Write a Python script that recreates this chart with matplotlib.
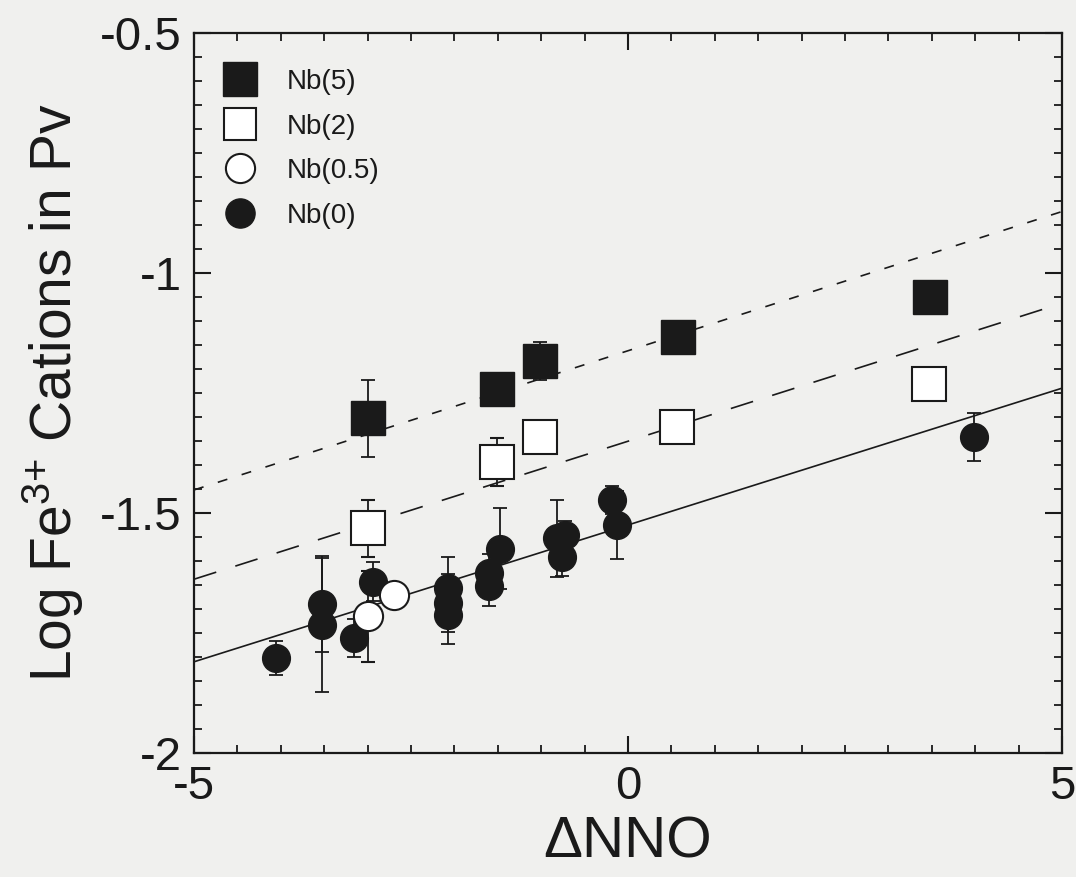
import matplotlib
matplotlib.use("Agg")
import matplotlib.pyplot as plt
from matplotlib.ticker import MultipleLocator, FixedLocator, FixedFormatter
from matplotlib.lines import Line2D

plt.rcParams['font.family'] = ['Liberation Sans', 'DejaVu Sans']
plt.rcParams['axes.unicode_minus'] = False
plt.rcParams['mathtext.default'] = 'regular'

# ---- data ----
nb5_x = [-3.0, -1.51, -1.01, 0.58, 3.48]
nb5_y = [-1.303, -1.242, -1.183, -1.133, -1.051]
nb5_err = [0.08, 0.02, 0.04, 0.02, 0.02]

nb2_x = [-3.0, -1.51, -1.01, 0.57, 3.47]
nb2_y = [-1.532, -1.393, -1.341, -1.320, -1.232]
nb2_err = [0.06, 0.05, 0.02, 0.02, 0.02]

nb05_x = [-3.0, -2.70]
nb05_y = [-1.715, -1.671]
nb05_err = [0.095, 0.02]

nb0_x = [-4.06, -3.52, -3.52, -3.16, -2.94, -2.07, -2.07, -2.07, -1.60, -1.60,
         -1.475, -0.82, -0.725, -0.765, -0.19, -0.13, 3.99]
nb0_y = [-1.802, -1.69, -1.733, -1.761, -1.643, -1.657, -1.688, -1.712, -1.626,
         -1.653, -1.574, -1.553, -1.546, -1.591, -1.473, -1.525, -1.342]
nb0_err = [0.035, 0.10, 0.14, 0.04, 0.04, 0.065, 0.06, 0.06, 0.04, 0.04,
           0.085, 0.08, 0.03, 0.04, 0.03, 0.07, 0.05]

fit_x = [-5, 5]
fit_nb0 = [-1.81, -1.24]
fit_nb2 = [-1.638, -1.063]
fit_nb5 = [-1.452, -0.872]

labels = ["Nb(5)", "Nb(2)", "Nb(0.5)", "Nb(0)"]
xticks = [-5, 0, 5]
xticklabels = ["-5", "0", "5"]
yticks = [-2, -1.5, -1, -0.5]
yticklabels = ["-2", "-1.5", "-1", "-0.5"]

bg = '#f0f0ee'
ink = '#1a1a1a'

fig = plt.figure(figsize=(10.76, 8.77), dpi=100, facecolor=bg)
ax = fig.add_axes([0.1803, 0.1414, 0.8067, 0.821])
ax.set_facecolor(bg)

# fit lines
ax.plot(fit_x, fit_nb0, color=ink, lw=1.2, zorder=1)
ax.plot(fit_x, fit_nb2, color=ink, lw=1.2, dashes=(14, 12), zorder=1)
ax.plot(fit_x, fit_nb5, color=ink, lw=1.2, dashes=(6, 9), zorder=1)

ekw = dict(ecolor=ink, elinewidth=1.3, capsize=5, capthick=1.3, ls='none', zorder=2)
ax.errorbar(nb0_x, nb0_y, yerr=nb0_err, marker='o', ms=20, mfc=ink, mec=ink, **ekw)
ax.errorbar(nb05_x, nb05_y, yerr=nb05_err, marker='o', ms=21, mfc='white', mec=ink, mew=1.5, **ekw)
ax.errorbar(nb2_x, nb2_y, yerr=nb2_err, marker='s', ms=24, mfc='white', mec=ink, mew=1.5, **ekw)
ax.errorbar(nb5_x, nb5_y, yerr=nb5_err, marker='s', ms=25, mfc=ink, mec=ink, **ekw)

ax.set_xlim(-5, 5)
ax.set_ylim(-2, -0.5)

ax.xaxis.set_major_locator(FixedLocator(xticks))
ax.xaxis.set_major_formatter(FixedFormatter(xticklabels))
ax.xaxis.set_minor_locator(MultipleLocator(0.5))
ax.yaxis.set_major_locator(FixedLocator(yticks))
ax.yaxis.set_major_formatter(FixedFormatter(yticklabels))
ax.yaxis.set_minor_locator(MultipleLocator(0.05))

ax.tick_params(which='both', direction='in', top=True, right=True, color=ink)
ax.tick_params(which='major', length=12, width=1.5, labelsize=34, pad=9, labelcolor=ink)
ax.tick_params(which='minor', length=6, width=1.3)
for s in ax.spines.values():
    s.set_linewidth(1.6)
    s.set_color(ink)

ax.set_xlabel("ΔNNO", fontsize=42, color=ink, labelpad=4)
ax.set_ylabel("Log Fe$^{3{+}}$ Cations in Pv", fontsize=41, color=ink, labelpad=10)

handles = [
    Line2D([], [], ls='none', marker='s', ms=25, mfc=ink, mec=ink),
    Line2D([], [], ls='none', marker='s', ms=23, mfc='white', mec=ink, mew=1.5),
    Line2D([], [], ls='none', marker='o', ms=21, mfc='white', mec=ink, mew=1.5),
    Line2D([], [], ls='none', marker='o', ms=21, mfc=ink, mec=ink),
]
leg = ax.legend(handles, labels, loc='upper left', bbox_to_anchor=(0.029, 0.95),
                frameon=False, fontsize=20, labelspacing=0.67, handletextpad=0.95,
                handlelength=1.5, borderaxespad=0.0, borderpad=0.0)
for t in leg.get_texts():
    t.set_color(ink)

fig.savefig("out.png", dpi=100, facecolor=bg)
